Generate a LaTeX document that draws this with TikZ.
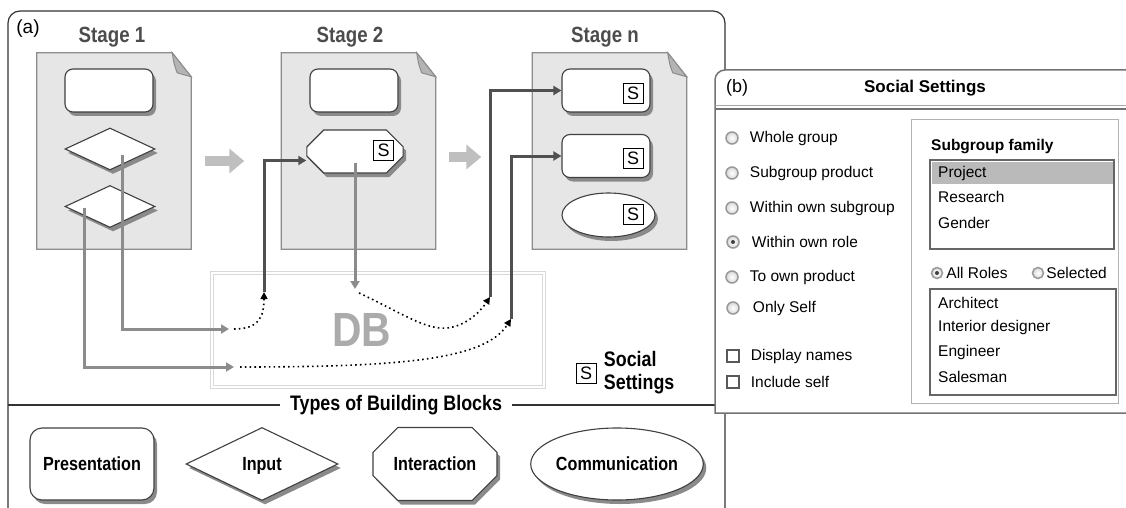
\documentclass[tikz,border=0pt]{standalone}
\usepackage{fontspec}
\setmainfont{Liberation Sans}
\newfontfamily\narrowfont[FakeStretch=0.85]{Liberation Sans}
\usetikzlibrary{arrows.meta,positioning,shapes.geometric,shapes.misc,shadows}
\newcommand{\fsz}[1]{\fontsize{#1}{#1}\selectfont}
\definecolor{sheetgray}{HTML}{E6E6E6}
\definecolor{flapgray}{HTML}{B4B4B4}
\definecolor{linegray}{HTML}{8C8C8C}
\definecolor{darkline}{HTML}{505050}
\definecolor{shadegray}{HTML}{8A8A8A}
\definecolor{dbgray}{HTML}{ABABAB}
\tikzset{
    %Define standard arrow tip
    >={Triangle[length=8pt,width=9pt]},
    %Define style for stage pages
    stagepage/.style={
           rectangle,
           inner sep=0pt,
           minimum width=154pt,
           minimum height=196pt},
    pagesheet/.style={fill=sheetgray, draw=linegray, line width=1.2pt},
    pageflap/.style={fill=flapgray, draw=linegray, line width=1pt},
    stagelabel/.style={font=\narrowfont\bfseries\fsz{22}, text=black!70},
    %Define styles for building blocks
    block/.style={
           draw=black!75, fill=white, line width=1.1pt,
           drop shadow={shadow xshift=3pt,shadow yshift=-4pt,fill=shadegray,opacity=1},
           inner sep=0pt, text depth=0pt,
           font=\narrowfont\bfseries\fsz{19}},
    presblock/.style={block, rectangle, rounded corners=8pt,
           minimum width=88pt, minimum height=43pt},
    inblock/.style={block, diamond, minimum width=90pt, minimum height=42pt},
    actblock/.style={block, chamfered rectangle,
           chamfered rectangle xsep=10pt, chamfered rectangle ysep=10pt,
           minimum width=96pt, minimum height=43pt},
    commblock/.style={block, ellipse, minimum width=93pt, minimum height=44pt},
    sbox/.style={draw=black, line width=0.8pt, fill=white, inner sep=0pt,
           minimum width=20pt, minimum height=20pt, font=\fsz{18}},
    % Define arrow styles
    stepflow/.style={-{Triangle[length=15pt,width=24pt]}, draw=black!25, line width=10pt},
    feed/.style={->, draw=linegray, line width=3pt},
    pull/.style={->, draw=darkline, line width=3pt},
    dbflow/.style={-{Triangle[length=7pt,width=7pt]}, line width=1.6pt,
           dash pattern=on 1.6pt off 3.2pt},
    frame/.style={draw=black!80, line width=1.2pt},
    % Define styles for the settings dialog
    radio/.style={circle, draw=black!40, line width=1.5pt, inner sep=0pt,
           minimum size=12pt, inner color=white, outer color=black!15},
    radioon/.style={radio, path picture={
           \fill[black!75] (path picture bounding box.center) circle (2pt);}},
    checkbox/.style={rectangle, draw=black!65, line width=1.3pt, inner sep=0pt,
           minimum size=12pt, fill=white},
    optlabel/.style={font=\fsz{15.5}, inner sep=0pt, anchor=west},
    listbox/.style={rectangle, draw=black!60, line width=1.6pt, fill=white, inner sep=0pt}
}

\begin{document}
\begin{tikzpicture}[x=1pt,y=-1pt]
    \useasboundingbox (0,0) rectangle (1126,508);
    % panel (a)
    \draw[frame, rounded corners=12pt] (8,520) -- (8,11) -- (725,11) -- (725,520);
    \node (alabel) [font=\fsz{19}] at (28,29) {(a)};
    \draw[frame] (8,405) -- (715,405);
    \node (types) [fill=white, inner xsep=10pt, font=\narrowfont\bfseries\fsz{21}]
          at (396,405) {Types of Building Blocks};
    % stages
    \node (page1) [stagepage] at (114,151) {};
    \node (page2) [stagepage] at (358.5,151) {};
    \node (page3) [stagepage] at (609.5,151) {};
    \foreach \p in {page1,page2,page3} {
      \filldraw[pagesheet] (\p.north west) -- ([xshift=-19pt]\p.north east)
          -- ([yshift=-24pt]\p.north east) -- (\p.south east) -- (\p.south west) -- cycle;
      \filldraw[pageflap] ([xshift=-19pt]\p.north east)
          .. controls ([xshift=-17pt,yshift=-12pt]\p.north east) .. ([xshift=-14pt,yshift=-20pt]\p.north east)
          -- ([yshift=-24pt]\p.north east) -- cycle;
    }
    \node (stage1) [stagelabel] at (112,37) {Stage 1};
    \node (stage2) [stagelabel] at (350,37) {Stage 2};
    \node (stagen) [stagelabel] at (605,37) {Stage n};
    \draw[stepflow] ([xshift=14pt,yshift=-10pt]page1.east) -- ([xshift=-37pt,yshift=-10pt]page2.west);
    \draw[stepflow] ([xshift=13pt,yshift=-6pt]page2.east) -- ([xshift=-51pt,yshift=-6pt]page3.west);
    % blocks of the stages
    \node (pres1) [presblock] at (109,90.5) {};
    \node (inp1a) [inblock] at (110,149) {};
    \node (inp1b) [inblock] at (110,206.5) {};
    \node (pres2) [presblock] at (354,90.5) {};
    \node (act2) [actblock] at (355,151.5) {\phantom{Interaction}};
    \node (s2) [sbox] at (383.5,150) {S};
    \node (pres3a) [presblock] at (606,90.5) {};
    \node (s3a) [sbox] at (633,93) {S};
    \node (pres3b) [presblock] at (606,156) {};
    \node (s3b) [sbox] at (633,158) {S};
    \node (comm3) [commblock] at (608.5,215) {};
    \node (s3c) [sbox] at (633,214) {S};
    % database
    \node (db) [draw=black!15, double=white, double distance=2pt, line width=1pt,
          minimum width=332pt, minimum height=114pt] at (378,330) {};
    \node (dblabel) [font=\narrowfont\bfseries\fsz{48}, text=dbgray] at (362,330) {DB};
    \coordinate (in1) at (229,329);
    \coordinate (in2) at (234,367);
    \coordinate (in3) at (355,289);
    \coordinate (out1) at (264,292);
    \coordinate (out2) at (490,297);
    \coordinate (out3) at (511,319);
    \draw[feed] ([xshift=12pt,yshift=-6pt]inp1a.center) |- (in1);
    \draw[feed] ([xshift=-26pt,yshift=-1pt]inp1b.center) |- (in2);
    \draw[feed] ([yshift=-11pt]act2.center) -- (in3);
    \draw[dbflow] ([xshift=5pt]in1) .. controls (258,329) and (264,318) .. (out1);
    \draw[dbflow] ([xshift=4pt,yshift=-4pt]in3) .. controls (400,312) and (425,330) .. (447,328)
          .. controls (466,326) and (480,312) .. (out2);
    \draw[dbflow] ([xshift=6pt]in2) .. controls (400,367) and (485,360) .. (out3);
    \draw[pull] (out1) |- ([yshift=-9pt]act2.west);
    \draw[pull] (out2) |- (pres3a.west);
    \draw[pull] (out3) |- (pres3b.west);
    % legend
    \node (slegend) [sbox] at (586,373) {S};
    \node (slegendtext) [right=4pt of slegend, align=left,
          font=\narrowfont\bfseries\fontsize{21}{23}\selectfont] {Social\\Settings};
    % types of building blocks
    \node (presdemo) [presblock, minimum width=124pt, minimum height=72pt, rounded corners=12pt]
          at (92,464) {Presentation};
    \node (indemo) [inblock, minimum width=152pt, minimum height=73pt] at (262,464) {Input};
    \node (actdemo) [actblock, minimum width=124pt, minimum height=73pt,
          chamfered rectangle xsep=18pt, chamfered rectangle ysep=18pt] at (435,464) {Interaction};
    \node (commdemo) [commblock, minimum width=145pt, minimum height=72pt] at (617,464) {Communication};
    % panel (b)
    \filldraw[fill=white, draw=black!55, line width=1.5pt] (715,413) [rounded corners=10pt]
          -- (715,70) -- (1140,70) [sharp corners] -- (1140,413) -- cycle;
    \draw[black!35, line width=1pt] (715,106) -- (1140,106);
    \draw[black!55, line width=1.2pt] (715,109) -- (1140,109);
    \node (blabel) [font=\fsz{18}] at (737,88) {(b)};
    \node (btitle) [font=\bfseries\fsz{17}] at (925,88) {Social Settings};
    \node (rwhole) [radio] at (732,138) {};
    \node (rprod) [radio] at (732,173) {};
    \node (rsub) [radio] at (732,208) {};
    \node (rrole) [radioon] at (733,242) {};
    \node (rown) [radio] at (732,277) {};
    \node (rself) [radio] at (733,308) {};
    \node (cnames) [checkbox] at (733,356) {};
    \node (cself) [checkbox] at (733,382) {};
    \node [optlabel, right=11pt of rwhole] {Whole group};
    \node [optlabel, right=11pt of rprod] {Subgroup product};
    \node [optlabel, right=11pt of rsub] {Within own subgroup};
    \node [optlabel, right=12pt of rrole] {Within own role};
    \node [optlabel, right=11pt of rown] {To own product};
    \node [optlabel, right=13pt of rself] {Only Self};
    \node [optlabel, right=11pt of cnames] {Display names};
    \node [optlabel, right=11pt of cself] {Include self};
    \node (grpbox) [draw=black!30, line width=1pt, minimum width=207pt, minimum height=283pt]
          at (1014.5,261.5) {};
    \node (famlabel) [optlabel, font=\bfseries\fsz{15.5}] at (931,147) {Subgroup family};
    \node (famlist) [listbox, minimum width=184pt, minimum height=89pt] at (1022,204.5) {};
    \fill[black!27] (931.5,161.5) rectangle (1112.5,184);
    \node [optlabel] at (938,173) {Project};
    \node [optlabel] at (938,197) {Research};
    \node [optlabel] at (938,223) {Gender};
    \node (rall) [radioon, minimum size=11pt] at (937,273) {};
    \node [optlabel, right=3pt of rall] {All Roles};
    \node (rsel) [radio, minimum size=11pt] at (1038,273) {};
    \node [optlabel, right=2pt of rsel] {Selected};
    \node (rolelist) [listbox, minimum width=186pt, minimum height=106pt] at (1023,342) {};
    \node [optlabel] at (938,303) {Architect};
    \node [optlabel] at (938,327) {Interior designer};
    \node [optlabel] at (938,352) {Engineer};
    \node [optlabel] at (938,377) {Salesman};
\end{tikzpicture}
\end{document}
